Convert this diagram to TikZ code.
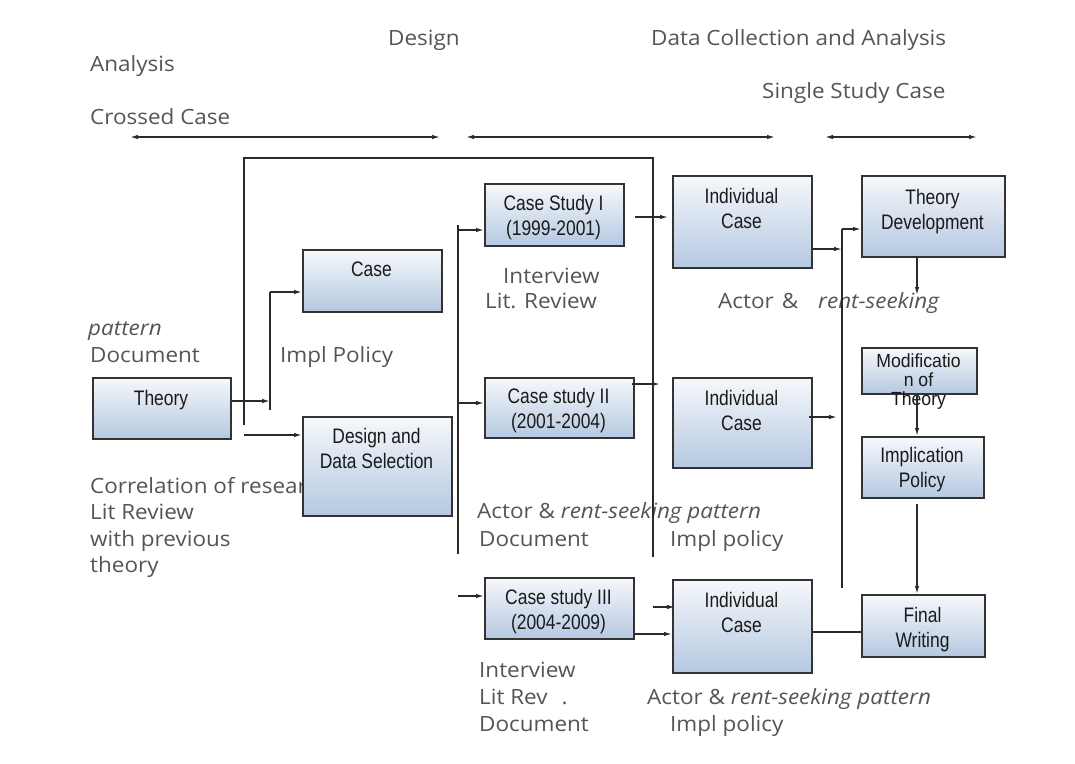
\documentclass[tikz,border=0pt]{standalone}
\usepackage{fontspec}
\setmainfont{Liberation Sans}
\newfontfamily\lblfont[FakeStretch=1.07]{Open Sans}
\newfontfamily\boxfont[FakeStretch=0.83]{Liberation Sans}
\newfontfamily\modfont[FakeStretch=0.93]{Liberation Sans}
\usetikzlibrary{arrows.meta}
\definecolor{lblgray}{HTML}{555555}
\definecolor{boxedge}{HTML}{333333}
\definecolor{boxtop}{HTML}{F6F8FB}
\definecolor{boxbot}{HTML}{B5C8E1}
\definecolor{boxtext}{HTML}{1A1A1A}
\definecolor{linecol}{HTML}{2A2A2A}
\begin{document}
\begin{tikzpicture}[x=1pt,y=-1pt,
  lbl/.style={font=\lblfont\fontsize{21}{25}\selectfont, text=lblgray, anchor=base west, inner sep=0pt},
  bx/.style={draw=boxedge, line width=1.8pt, top color=boxtop, bottom color=boxbot, inner sep=0pt, anchor=north west},
  btxt/.style={font=\boxfont\fontsize{21}{25}\selectfont, text=boxtext, align=center, inner sep=0pt, anchor=north},
  conn/.style={draw=linecol, line width=1.4pt},
  arr/.style={conn, -{Latex[length=8pt,width=4.5pt]}},
  darr/.style={conn, {Latex[length=8pt,width=4.5pt]}-{Latex[length=8pt,width=4.5pt]}}
]
\useasboundingbox[fill=white] (0,0) rectangle (1075,763);

% ---------- header labels ----------
\node[lbl] (hDesign) at (388,45) {Design};
\node[lbl] (hData) at (651,45) {Data Collection and Analysis};
\node[lbl] (hAnalysis) at (90,71) {Analysis};
\node[lbl] (hSingle) at (762,98) {Single Study Case};
\node[lbl] (hCrossed) at (90,124) {Crossed Case};

% ---------- body labels ----------
\node[lbl] (lPattern) at (88,335) {\itshape pattern};
\node[lbl] (lDoc1) at (90,362) {Document};
\node[lbl] (lImpl1) at (280,362) {Impl Policy};
\node[lbl] (lInt1) at (503,283) {Interview};
\node[lbl] (lLit1) at (485,308) {Lit. Review};
\node[lbl] (lActor1) at (718,308) {Actor\hspace{8pt}\&\hspace{20pt}\textit{rent-seeking}};
\node[lbl] (lCorr1) at (90,493) {Correlation of research};
\node[lbl] (lCorr2) at (90,519) {Lit Review};
\node[lbl] (lCorr3) at (90,546) {with previous};
\node[lbl] (lCorr4) at (90,572) {theory};
\node[lbl] (lActor2) at (477,518) {Actor \& \textit{rent-seeking pattern}};
\node[lbl] (lDoc2) at (479,546) {Document};
\node[lbl] (lImpl2) at (670,546) {Impl policy};
\node[lbl] (lInt3) at (479,677) {Interview};
\node[lbl] (lLit3) at (479,704) {Lit Rev\hspace{14pt}.};
\node[lbl] (lDoc3) at (479,731) {Document};
\node[lbl] (lActor3) at (647,704) {Actor \& \textit{rent-seeking pattern}};
\node[lbl] (lImpl3) at (670,731) {Impl policy};

% ---------- phase arrows ----------
\coordinate (p1l) at (130,137); \coordinate (p1r) at (440,137);
\coordinate (p2l) at (466,137); \coordinate (p2r) at (775,137);
\coordinate (p3l) at (825,137); \coordinate (p3r) at (977,137);
\draw[darr] (p1l) -- (p1r);
\draw[darr] (p2l) -- (p2r);
\draw[darr] (p3l) -- (p3r);

% ---------- boxes ----------
\node[bx, minimum width=138, minimum height=61] (theory) at (92,377) {};
\node[bx, minimum width=139, minimum height=62] (case) at (302,249) {};
\node[bx, minimum width=149, minimum height=99] (design) at (302,416) {};
\node[bx, minimum width=139, minimum height=62] (cs1) at (484,183) {};
\node[bx, minimum width=149, minimum height=60] (cs2) at (484,377) {};
\node[bx, minimum width=149, minimum height=61] (cs3) at (484,577) {};
\node[bx, minimum width=139, minimum height=92] (ic1) at (672,175) {};
\node[bx, minimum width=139, minimum height=90] (ic2) at (672,377) {};
\node[bx, minimum width=139, minimum height=93] (ic3) at (672,579) {};
\node[bx, minimum width=143, minimum height=81] (tdev) at (861,175) {};
\node[bx, minimum width=115, minimum height=46] (mod) at (861,347) {};
\node[bx, minimum width=122, minimum height=61] (impl) at (861,436) {};
\node[bx, minimum width=123, minimum height=62] (fw) at (861,594) {};

% ---------- box texts ----------
\node[btxt] (theoryT) at (161,390) {Theory};
\node[btxt] (caseT) at (371.5,262) {Case};
\node[btxt] (designT) at (376.5,428) {Design and\\Data Selection};
\node[btxt] (cs1T) at (553.5,195) {Case Study I\\(1999-2001)};
\node[btxt] (cs2T) at (558.5,388) {Case study II\\(2001-2004)};
\node[btxt] (cs3T) at (558.5,589) {Case study III\\(2004-2009)};
\node[btxt] (ic1T) at (741.5,188) {Individual\\Case};
\node[btxt] (ic2T) at (741.5,390) {Individual\\Case};
\node[btxt] (ic3T) at (741.5,592) {Individual\\Case};
\node[btxt] (tdevT) at (932.5,189) {Theory\\Development};
\node[btxt, font=\modfont\fontsize{19}{19}\selectfont] (modT) at (918.5,354) {Modificatio\\n of\\Theory};
\node[btxt] (implT) at (922,447) {Implication\\Policy};
\node[btxt] (fwT) at (922.5,607) {Final\\Writing};

% ---------- junction coordinates ----------
\coordinate (fl) at (244,425);
\coordinate (ftl) at (244,158);
\coordinate (ftr) at (653,158);
\coordinate (fr) at (653,557);
\coordinate (v1t) at (270,292);
\coordinate (v1b) at (270,410);
\coordinate (ja) at (270,401);
\coordinate (jc) at (244,435);
\coordinate (v2t) at (458,225);
\coordinate (v2b) at (458,554);
\coordinate (jd) at (458,230);
\coordinate (je) at (458,403);
\coordinate (jf) at (458,596);
\coordinate (jg) at (635,217);
\coordinate (jh) at (660,384);
\coordinate (v3t) at (842,229);
\coordinate (v3b) at (842,588);
\coordinate (ji) at (842,249);
\coordinate (jk) at (837,417);
\coordinate (jl) at (917,295);
\coordinate (xcol) at (917,0);
\coordinate (jn) at (0,634);
\coordinate (jo) at (653,607);
\coordinate (jp) at (0,632);

% ---------- connectors ----------
\draw[conn] (fl) -- (ftl) -- (ftr) -- (fr);
\draw[conn] (v1t) -- (v1b);
\draw[arr] (theory.east |- ja) -- (ja);
\draw[arr] (v1t) -- (case.west |- v1t);
\draw[arr] (jc) -- (design.west |- jc);
\draw[conn] (v2t) -- (v2b);
\draw[arr] (jd) -- (cs1.west |- jd);
\draw[arr] (je) -- (cs2.west |- je);
\draw[arr] (jf) -- (cs3.west |- jf);
\draw[arr] (jg) -- ([xshift=-4pt]ic1.west |- jg);
\draw[arr] ([xshift=-3pt]cs2.east |- jh) -- (jh);
\draw[conn] (v3t) -- (v3b);
\draw[arr] (ic1.east |- ji) -- (ji);
\draw[arr] (v3t) -- (tdev.west |- v3t);
\draw[arr] ([xshift=-4pt]ic2.east |- jk) -- (jk);
\draw[arr] (xcol |- tdev.south) -- (jl);
\draw[arr] (xcol |- mod.south) -- (xcol |- impl.north);
\draw[arr] ([yshift=-5pt]xcol |- impl.south) -- (xcol |- fw.north);
\draw[arr] (cs3.east |- jn) -- (ic3.west |- jn);
\draw[arr] (jo) -- ([xshift=3pt]ic3.west |- jo);
\draw[conn] (ic3.east |- jp) -- (fw.west |- jp);
\end{tikzpicture}
\end{document}
